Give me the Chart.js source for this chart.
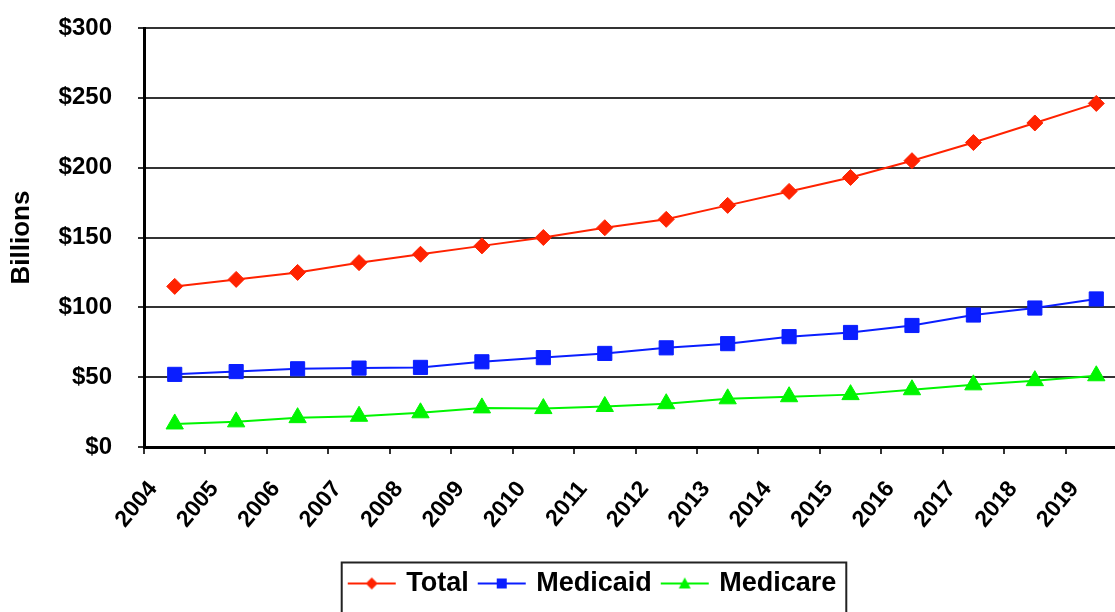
<!DOCTYPE html>
<html>
<head>
<meta charset="utf-8">
<title>Billions</title>
<script src="https://cdn.jsdelivr.net/npm/chart.js@4.4.1/dist/chart.umd.min.js"></script>
<style>
  html, body { margin: 0; padding: 0; background: #fff; overflow: hidden; }
  #wrap { position: relative; width: 1115px; height: 612px; overflow: hidden; }
  #chart { position: absolute; left: 0; top: 0; }
</style>
</head>
<body>
<div id="wrap"><canvas id="chart" width="1138" height="612"></canvas></div>
<script>
// years sit on the tick marks, each value is plotted in the middle of its year
const years = [2004, 2005, 2006, 2007, 2008, 2009, 2010, 2011, 2012, 2013, 2014, 2015, 2016, 2017, 2018, 2019];
const total    = [115, 120, 125, 132, 138, 144, 150, 157, 163, 173, 183, 193, 205, 218, 232, 246];
const medicaid = [52, 54, 56, 56.5, 57, 61, 64, 67, 71, 74, 79, 82, 87, 94.5, 99.5, 106];
const medicare = [16.5, 18, 21, 22, 24.5, 28, 27.5, 29, 31, 34.5, 36, 37.5, 41, 44.5, 47.5, 51];
const seriesNames = ["Total", "Medicaid", "Medicare"];

const RED = "#ff2200";
const BLUE = "#0a1eff";
const GREEN = "#00f500";

Chart.defaults.font.family = "'Liberation Sans', Arial, sans-serif";
Chart.defaults.font.weight = "bold";
Chart.defaults.color = "#000";

function toPoints(values) {
    return values.map((v, i) => ({ x: i + 0.5, y: v }));
}

// small line + marker picture for the legend
function legendIcon(shape, color) {
    const c = document.createElement("canvas");
    c.width = 50;
    c.height = 20;
    const g = c.getContext("2d");
    g.strokeStyle = color;
    g.lineWidth = 2;
    g.beginPath();
    g.moveTo(1, 10);
    g.lineTo(49, 10);
    g.stroke();
    g.fillStyle = color;
    g.beginPath();
    if (shape === "diamond") {
        g.moveTo(25, 4); g.lineTo(31, 10); g.lineTo(25, 16); g.lineTo(19, 10);
    } else if (shape === "square") {
        g.rect(20, 5, 10, 10);
    } else {
        g.moveTo(25, 4); g.lineTo(31, 15); g.lineTo(19, 15);
    }
    g.closePath();
    g.fill();
    return c;
}

const icons = [legendIcon("diamond", RED), legendIcon("square", BLUE), legendIcon("triangle", GREEN)];

// nudge the legend to where it sits in the original and put a frame round it
const legendFrame = {
    id: "legendFrame",
    afterLayout(chart) {
        chart.legend.left += 27;
        chart.legend.right += 27;
    },
    afterDraw(chart) {
        const hb = chart.legend.legendHitBoxes;
        if (!hb || !hb.length) return;
        const last = hb[hb.length - 1];
        const x0 = hb[0].left - 9;
        const x1 = last.left + last.width + 10;
        const y0 = hb[0].top + hb[0].height / 2 - 21;
        const ctx = chart.ctx;
        ctx.save();
        ctx.strokeStyle = "#222";
        ctx.lineWidth = 2;
        ctx.strokeRect(x0, y0, x1 - x0, 80);
        ctx.restore();
    }
};

new Chart(document.getElementById("chart"), {
    type: "line",
    data: {
        datasets: [
            {
                label: seriesNames[0],
                data: toPoints(total),
                borderColor: RED,
                backgroundColor: RED,
                borderWidth: 2,
                pointStyle: "rectRot",
                pointRadius: 8,
                pointBorderWidth: 1
            },
            {
                label: seriesNames[1],
                data: toPoints(medicaid),
                borderColor: BLUE,
                backgroundColor: BLUE,
                borderWidth: 2,
                pointStyle: "rect",
                pointRadius: 10,
                pointBorderWidth: 1
            },
            {
                label: seriesNames[2],
                data: toPoints(medicare),
                borderColor: GREEN,
                backgroundColor: GREEN,
                borderWidth: 2,
                pointStyle: "triangle",
                pointRadius: 10,
                pointBorderWidth: 1
            }
        ]
    },
    options: {
        responsive: false,
        animation: false,
        devicePixelRatio: 1,
        layout: { padding: { top: 28, right: 5, bottom: 5, left: 0 } },
        scales: {
            x: {
                type: "linear",
                min: 0,
                max: years.length,
                afterFit: (scale) => {
                    scale.height = 111;
                    scale.paddingLeft = 0;
                    scale.paddingRight = 0;
                },
                ticks: {
                    stepSize: 1,
                    autoSkip: false,
                    minRotation: 50,
                    maxRotation: 50,
                    padding: 22,
                    labelOffset: 9,
                    font: { size: 23, weight: "bold" },
                    callback: (v) => (years[Math.round(v)] !== undefined ? String(years[Math.round(v)]) : "")
                },
                grid: { drawOnChartArea: false, drawTicks: true, tickLength: 7, color: "#333", lineWidth: 2 },
                border: { color: "#000", width: 3 }
            },
            y: {
                min: 0,
                max: 300,
                afterFit: (scale) => {
                    scale.width = 144;
                    scale.paddingTop = 0;
                    scale.paddingBottom = 0;
                },
                ticks: {
                    stepSize: 50,
                    padding: 26,
                    font: { size: 24, weight: "bold" },
                    callback: (v) => "$" + v
                },
                grid: { color: "#333", lineWidth: 2, tickLength: 6 },
                border: { color: "#000", width: 3 },
                title: {
                    display: true,
                    text: "Billions",
                    font: { size: 26, weight: "bold" },
                    padding: { top: 6, bottom: 0 }
                }
            }
        },
        plugins: {
            tooltip: { enabled: false },
            legend: {
                position: "bottom",
                labels: {
                    usePointStyle: true,
                    pointStyleWidth: 42,
                    padding: 12,
                    color: "#000",
                    font: { size: 27, weight: "bold" },
                    generateLabels: (chart) => chart.data.datasets.map((ds, i) => ({
                        text: ds.label,
                        pointStyle: icons[i],
                        fillStyle: ds.borderColor,
                        strokeStyle: ds.borderColor,
                        fontColor: "#000",
                        lineWidth: 0,
                        hidden: false,
                        datasetIndex: i
                    }))
                }
            }
        }
    },
    plugins: [legendFrame]
});
</script>
</body>
</html>
